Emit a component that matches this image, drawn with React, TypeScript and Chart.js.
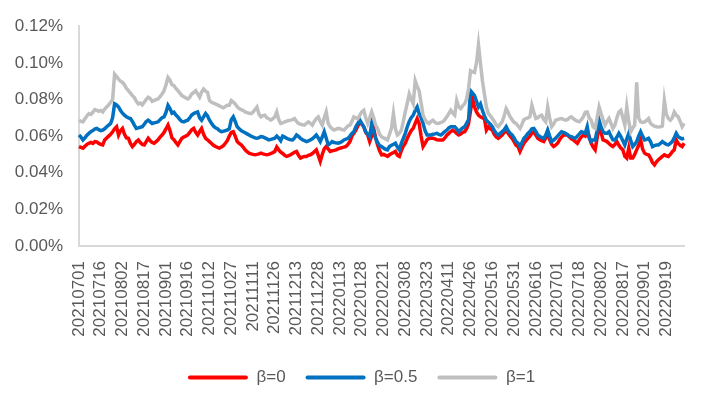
import React, { useEffect, useRef } from 'react';
import { Chart, registerables } from 'chart.js';

Chart.register(...registerables);

// Trading calendar (SSE), first and last day shown, and exchange holidays on weekdays
const FIRST_DAY = '20210701';
const LAST_DAY = '20220930';
const HOLIDAYS = [
  '20210920', '20210921', '20211001', '20211004', '20211005', '20211006', '20211007',
  '20220103', '20220131', '20220201', '20220202', '20220203', '20220204',
  '20220404', '20220405', '20220502', '20220503', '20220504', '20220603', '20220912',
];

// Labels printed on the x axis
const TICK_LABELS = [
  '20210701', '20210716', '20210802', '20210817', '20210901', '20210916', '20211012',
  '20211027', '20211111', '20211126', '20211213', '20211228', '20220113', '20220128',
  '20220221', '20220308', '20220323', '20220411', '20220426', '20220516', '20220531',
  '20220616', '20220701', '20220718', '20220802', '20220817', '20220901', '20220919',
];

const SERIES_NAMES = ['β=0', 'β=0.5', 'β=1'];

// values in percent
const BETA_0 = [
  0.0543, 0.0538, 0.0534, 0.0545, 0.0555, 0.0561, 0.0565, 0.0560, 0.0570, 0.0568,
  0.0560, 0.0555, 0.0552, 0.0579, 0.0590, 0.0600, 0.0610, 0.0624, 0.0640, 0.0651,
  0.0606, 0.0630, 0.0642, 0.0610, 0.0590, 0.0588, 0.0560, 0.0543, 0.0555, 0.0570,
  0.0579, 0.0565, 0.0555, 0.0552, 0.0570, 0.0588, 0.0575, 0.0565, 0.0561, 0.0570,
  0.0580, 0.0595, 0.0606, 0.0620, 0.0640, 0.0660, 0.0630, 0.0590, 0.0580, 0.0565,
  0.0552, 0.0570, 0.0588, 0.0595, 0.0600, 0.0606, 0.0620, 0.0635, 0.0642, 0.0620,
  0.0606, 0.0625, 0.0642, 0.0610, 0.0588, 0.0580, 0.0570, 0.0560, 0.0550, 0.0543,
  0.0538, 0.0534, 0.0540, 0.0548, 0.0561, 0.0575, 0.0600, 0.0620, 0.0624, 0.0600,
  0.0570, 0.0560, 0.0552, 0.0540, 0.0525, 0.0515, 0.0507, 0.0503, 0.0500, 0.0498,
  0.0500, 0.0503, 0.0507, 0.0503, 0.0500, 0.0498, 0.0500, 0.0505, 0.0510, 0.0516,
  0.0540, 0.0525, 0.0512, 0.0505, 0.0495, 0.0489, 0.0493, 0.0498, 0.0505, 0.0512,
  0.0516, 0.0495, 0.0480, 0.0485, 0.0489, 0.0489, 0.0495, 0.0498, 0.0505, 0.0515,
  0.0525, 0.0495, 0.0462, 0.0500, 0.0530, 0.0543, 0.0530, 0.0516, 0.0520, 0.0522,
  0.0525, 0.0530, 0.0534, 0.0537, 0.0540, 0.0543, 0.0555, 0.0570, 0.0600, 0.0615,
  0.0633, 0.0655, 0.0678, 0.0665, 0.0651, 0.0620, 0.0606, 0.0570, 0.0600, 0.0642,
  0.0590, 0.0552, 0.0520, 0.0498, 0.0500, 0.0495, 0.0489, 0.0498, 0.0505, 0.0510,
  0.0516, 0.0495, 0.0489, 0.0520, 0.0545, 0.0561, 0.0588, 0.0610, 0.0630, 0.0642,
  0.0670, 0.0696, 0.0669, 0.0600, 0.0543, 0.0560, 0.0580, 0.0588, 0.0588, 0.0588,
  0.0585, 0.0580, 0.0579, 0.0579, 0.0579, 0.0590, 0.0605, 0.0615, 0.0625, 0.0633,
  0.0625, 0.0615, 0.0606, 0.0612, 0.0620, 0.0624, 0.0640, 0.0669, 0.0740, 0.0803,
  0.0760, 0.0732, 0.0714, 0.0705, 0.0700, 0.0696, 0.0633, 0.0651, 0.0640, 0.0633,
  0.0610, 0.0595, 0.0588, 0.0597, 0.0606, 0.0620, 0.0633, 0.0615, 0.0600, 0.0588,
  0.0570, 0.0550, 0.0543, 0.0516, 0.0540, 0.0561, 0.0575, 0.0588, 0.0600, 0.0615,
  0.0624, 0.0605, 0.0588, 0.0580, 0.0575, 0.0570, 0.0590, 0.0615, 0.0580, 0.0555,
  0.0543, 0.0550, 0.0561, 0.0580, 0.0595, 0.0606, 0.0606, 0.0606, 0.0595, 0.0585,
  0.0579, 0.0570, 0.0561, 0.0580, 0.0595, 0.0606, 0.0600, 0.0624, 0.0597, 0.0561,
  0.0540, 0.0525, 0.0590, 0.0660, 0.0620, 0.0579, 0.0575, 0.0570, 0.0560, 0.0550,
  0.0543, 0.0555, 0.0570, 0.0550, 0.0535, 0.0525, 0.0490, 0.0480, 0.0534, 0.0480,
  0.0480, 0.0500, 0.0525, 0.0550, 0.0579, 0.0530, 0.0507, 0.0500, 0.0498, 0.0480,
  0.0455, 0.0443, 0.0460, 0.0471, 0.0480, 0.0489, 0.0498, 0.0492, 0.0489, 0.0500,
  0.0515, 0.0525, 0.0579, 0.0560, 0.0550, 0.0543, 0.0561,
];

const BETA_05 = [
  0.0606, 0.0595, 0.0579, 0.0590, 0.0605, 0.0615, 0.0624, 0.0630, 0.0638, 0.0642,
  0.0635, 0.0630, 0.0633, 0.0640, 0.0651, 0.0660, 0.0669, 0.0700, 0.0776, 0.0770,
  0.0759, 0.0740, 0.0725, 0.0714, 0.0705, 0.0700, 0.0696, 0.0680, 0.0660, 0.0642,
  0.0645, 0.0648, 0.0651, 0.0665, 0.0680, 0.0687, 0.0678, 0.0669, 0.0672, 0.0675,
  0.0678, 0.0690, 0.0700, 0.0705, 0.0730, 0.0768, 0.0750, 0.0725, 0.0730, 0.0715,
  0.0705, 0.0690, 0.0680, 0.0678, 0.0683, 0.0687, 0.0700, 0.0715, 0.0723, 0.0728,
  0.0732, 0.0700, 0.0687, 0.0705, 0.0723, 0.0710, 0.0687, 0.0670, 0.0655, 0.0645,
  0.0640, 0.0630, 0.0624, 0.0626, 0.0630, 0.0633, 0.0640, 0.0690, 0.0705, 0.0680,
  0.0651, 0.0640, 0.0630, 0.0624, 0.0618, 0.0612, 0.0606, 0.0600, 0.0595, 0.0590,
  0.0588, 0.0592, 0.0597, 0.0595, 0.0590, 0.0585, 0.0579, 0.0582, 0.0585, 0.0588,
  0.0600, 0.0590, 0.0575, 0.0600, 0.0595, 0.0588, 0.0583, 0.0580, 0.0579, 0.0590,
  0.0606, 0.0598, 0.0588, 0.0580, 0.0575, 0.0570, 0.0574, 0.0579, 0.0585, 0.0595,
  0.0606, 0.0590, 0.0570, 0.0595, 0.0624, 0.0590, 0.0552, 0.0560, 0.0570, 0.0565,
  0.0563, 0.0561, 0.0565, 0.0570, 0.0579, 0.0583, 0.0588, 0.0600, 0.0615, 0.0624,
  0.0651, 0.0670, 0.0687, 0.0669, 0.0650, 0.0624, 0.0610, 0.0597, 0.0669, 0.0620,
  0.0588, 0.0565, 0.0548, 0.0543, 0.0535, 0.0528, 0.0525, 0.0543, 0.0550, 0.0555,
  0.0561, 0.0540, 0.0525, 0.0560, 0.0588, 0.0615, 0.0651, 0.0680, 0.0700, 0.0714,
  0.0740, 0.0759, 0.0723, 0.0700, 0.0669, 0.0630, 0.0606, 0.0606, 0.0606, 0.0610,
  0.0612, 0.0615, 0.0610, 0.0606, 0.0615, 0.0625, 0.0633, 0.0645, 0.0651, 0.0651,
  0.0651, 0.0640, 0.0624, 0.0635, 0.0645, 0.0651, 0.0670, 0.0690, 0.0848, 0.0835,
  0.0821, 0.0790, 0.0759, 0.0776, 0.0740, 0.0710, 0.0687, 0.0675, 0.0665, 0.0651,
  0.0630, 0.0615, 0.0606, 0.0615, 0.0624, 0.0635, 0.0651, 0.0630, 0.0615, 0.0606,
  0.0590, 0.0570, 0.0561, 0.0543, 0.0565, 0.0588, 0.0600, 0.0615, 0.0625, 0.0640,
  0.0642, 0.0625, 0.0606, 0.0598, 0.0592, 0.0588, 0.0605, 0.0633, 0.0600, 0.0570,
  0.0578, 0.0588, 0.0600, 0.0612, 0.0624, 0.0620, 0.0615, 0.0608, 0.0600, 0.0597,
  0.0592, 0.0588, 0.0600, 0.0612, 0.0624, 0.0620, 0.0615, 0.0651, 0.0588, 0.0570,
  0.0579, 0.0579, 0.0630, 0.0687, 0.0650, 0.0624, 0.0615, 0.0615, 0.0624, 0.0600,
  0.0580, 0.0579, 0.0595, 0.0615, 0.0597, 0.0575, 0.0552, 0.0585, 0.0615, 0.0575,
  0.0543, 0.0555, 0.0570, 0.0600, 0.0624, 0.0600, 0.0579, 0.0582, 0.0588, 0.0570,
  0.0543, 0.0548, 0.0552, 0.0552, 0.0560, 0.0570, 0.0562, 0.0555, 0.0552, 0.0560,
  0.0570, 0.0590, 0.0615, 0.0597, 0.0590, 0.0585, 0.0588,
];

const BETA_1 = [
  0.0687, 0.0680, 0.0678, 0.0695, 0.0710, 0.0723, 0.0718, 0.0730, 0.0745, 0.0741,
  0.0735, 0.0740, 0.0732, 0.0748, 0.0759, 0.0770, 0.0785, 0.0800, 0.0938, 0.0925,
  0.0911, 0.0900, 0.0893, 0.0880, 0.0860, 0.0848, 0.0835, 0.0821, 0.0810, 0.0790,
  0.0776, 0.0780, 0.0770, 0.0785, 0.0800, 0.0812, 0.0805, 0.0790, 0.0794, 0.0800,
  0.0803, 0.0815, 0.0830, 0.0848, 0.0880, 0.0920, 0.0905, 0.0880, 0.0875, 0.0860,
  0.0848, 0.0835, 0.0821, 0.0815, 0.0808, 0.0803, 0.0812, 0.0830, 0.0838, 0.0848,
  0.0830, 0.0812, 0.0840, 0.0857, 0.0845, 0.0839, 0.0794, 0.0785, 0.0780, 0.0776,
  0.0770, 0.0765, 0.0759, 0.0755, 0.0762, 0.0768, 0.0768, 0.0794, 0.0785, 0.0776,
  0.0760, 0.0750, 0.0745, 0.0740, 0.0732, 0.0728, 0.0725, 0.0723, 0.0730, 0.0745,
  0.0759, 0.0720, 0.0705, 0.0712, 0.0714, 0.0700, 0.0695, 0.0687, 0.0695, 0.0705,
  0.0732, 0.0690, 0.0669, 0.0672, 0.0678, 0.0682, 0.0685, 0.0687, 0.0690, 0.0696,
  0.0680, 0.0669, 0.0665, 0.0662, 0.0660, 0.0670, 0.0678, 0.0670, 0.0660, 0.0680,
  0.0695, 0.0705, 0.0680, 0.0660, 0.0700, 0.0732, 0.0670, 0.0651, 0.0640, 0.0633,
  0.0638, 0.0642, 0.0640, 0.0635, 0.0633, 0.0645, 0.0655, 0.0660, 0.0680, 0.0705,
  0.0700, 0.0696, 0.0715, 0.0732, 0.0741, 0.0700, 0.0669, 0.0700, 0.0732, 0.0700,
  0.0660, 0.0642, 0.0610, 0.0597, 0.0590, 0.0585, 0.0579, 0.0610, 0.0642, 0.0723,
  0.0640, 0.0606, 0.0615, 0.0633, 0.0680, 0.0732, 0.0780, 0.0830, 0.0800, 0.0776,
  0.0902, 0.0870, 0.0848, 0.0780, 0.0714, 0.0690, 0.0675, 0.0669, 0.0680, 0.0687,
  0.0675, 0.0669, 0.0670, 0.0675, 0.0678, 0.0690, 0.0705, 0.0723, 0.0741, 0.0725,
  0.0714, 0.0794, 0.0760, 0.0750, 0.0765, 0.0776, 0.0803, 0.0860, 0.0956, 0.0950,
  0.0947, 0.1000, 0.1099, 0.1000, 0.0902, 0.0830, 0.0760, 0.0723, 0.0710, 0.0696,
  0.0680, 0.0660, 0.0651, 0.0665, 0.0678, 0.0710, 0.0750, 0.0730, 0.0705, 0.0690,
  0.0675, 0.0669, 0.0655, 0.0642, 0.0665, 0.0690, 0.0696, 0.0700, 0.0705, 0.0768,
  0.0730, 0.0696, 0.0700, 0.0710, 0.0714, 0.0690, 0.0678, 0.0759, 0.0700, 0.0651,
  0.0665, 0.0687, 0.0690, 0.0694, 0.0696, 0.0692, 0.0687, 0.0690, 0.0700, 0.0705,
  0.0695, 0.0687, 0.0682, 0.0678, 0.0690, 0.0705, 0.0730, 0.0732, 0.0700, 0.0687,
  0.0650, 0.0642, 0.0700, 0.0759, 0.0723, 0.0690, 0.0660, 0.0680, 0.0696, 0.0670,
  0.0642, 0.0660, 0.0700, 0.0732, 0.0741, 0.0700, 0.0660, 0.0759, 0.0680, 0.0624,
  0.0645, 0.0660, 0.0893, 0.0700, 0.0678, 0.0675, 0.0678, 0.0685, 0.0696, 0.0670,
  0.0660, 0.0655, 0.0651, 0.0650, 0.0651, 0.0655, 0.0794, 0.0720, 0.0696, 0.0687,
  0.0700, 0.0732, 0.0715, 0.0705, 0.0680, 0.0651, 0.0669,
];

const Y_MIN = 0;
const Y_MAX = 0.12;
const Y_STEP = 0.02;

const COLORS = ['#FF0000', '#0070C0', '#BFBFBF'];
const TEXT_COLOR = '#595959';
const AXIS_COLOR = '#D9D9D9';
const FONT = "'Liberation Sans', Arial, sans-serif";

function tradingDays(): string[] {
  const fmt = (d: Date) =>
    `${d.getUTCFullYear()}${String(d.getUTCMonth() + 1).padStart(2, '0')}${String(d.getUTCDate()).padStart(2, '0')}`;
  const parse = (s: string) => new Date(Date.UTC(+s.slice(0, 4), +s.slice(4, 6) - 1, +s.slice(6, 8)));
  const out: string[] = [];
  const hol = new Set(HOLIDAYS);
  const end = parse(LAST_DAY).getTime();
  for (let d = parse(FIRST_DAY); d.getTime() <= end; d = new Date(d.getTime() + 86400000)) {
    const wd = d.getUTCDay();
    const s = fmt(d);
    if (wd !== 0 && wd !== 6 && !hol.has(s)) out.push(s);
  }
  return out;
}

// shifts the bottom legend a little to the right, as in the reference
const legendShift = {
  id: 'legendShift',
  afterLayout(chart: any) {
    const l = chart.legend;
    if (l) {
      l.left += 10;
      l.right += 10;
    }
  },
};

export default function App() {
  const ref = useRef<HTMLCanvasElement | null>(null);

  useEffect(() => {
    if (!ref.current) return;
    const labels = tradingDays();
    const tickSet = new Set(TICK_LABELS);
    const seriesValues = [BETA_0, BETA_05, BETA_1];
    const orders = [3, 2, 1];

    const chart = new Chart(ref.current, {
      type: 'line',
      data: {
        labels,
        datasets: SERIES_NAMES.map((name, i) => ({
          label: name,
          data: seriesValues[i],
          borderColor: COLORS[i],
          backgroundColor: COLORS[i],
          borderWidth: 3.5,
          pointRadius: 0,
          pointHoverRadius: 0,
          tension: 0,
          fill: false,
          order: orders[i],
        })),
      },
      options: {
        responsive: false,
        animation: false,
        events: [],
        layout: { padding: { left: 10, right: 9, top: 23, bottom: 0 } },
        plugins: {
          tooltip: { enabled: false },
          legend: {
            position: 'bottom',
            labels: {
              boxWidth: 60,
              boxHeight: 4,
              padding: 20,
              color: TEXT_COLOR,
              font: { size: 17, family: FONT },
              sort: (a: any, b: any) => a.datasetIndex - b.datasetIndex,
              generateLabels: (c: any) =>
                Chart.defaults.plugins.legend.labels.generateLabels(c).map((it: any) => ({
                  ...it,
                  fillStyle: COLORS[it.datasetIndex],
                  lineWidth: 0,
                  borderRadius: 2,
                })),
            },
          },
        },
        scales: {
          x: {
            type: 'category',
            grid: { display: false, drawTicks: false },
            border: { display: true, color: AXIS_COLOR, width: 2 },
            ticks: {
              autoSkip: false,
              minRotation: 90,
              maxRotation: 90,
              padding: 15,
              color: TEXT_COLOR,
              font: { size: 17, family: FONT },
              callback: (_v: any, idx: number) => (tickSet.has(labels[idx]) ? labels[idx] : null),
            },
            afterFit: (s: any) => {
              s.height = 103;
            },
          },
          y: {
            min: Y_MIN,
            max: Y_MAX,
            grid: { display: false, drawTicks: false },
            border: { display: true, color: AXIS_COLOR, width: 2 },
            ticks: {
              stepSize: Y_STEP,
              padding: 16,
              color: TEXT_COLOR,
              font: { size: 17, family: FONT },
              callback: (v: any) => `${Number(v).toFixed(2)}%`,
            },
            afterFit: (s: any) => {
              s.width = 69;
            },
          },
        },
      },
      plugins: [legendShift],
    } as any);
    return () => chart.destroy();
  }, []);

  return (
    <div style={{ position: 'fixed', left: 0, top: 0, width: 702, height: 396, background: '#fff' }}>
      <canvas ref={ref} width={702} height={396} style={{ display: 'block', width: 702, height: 396 }} />
    </div>
  );
}
